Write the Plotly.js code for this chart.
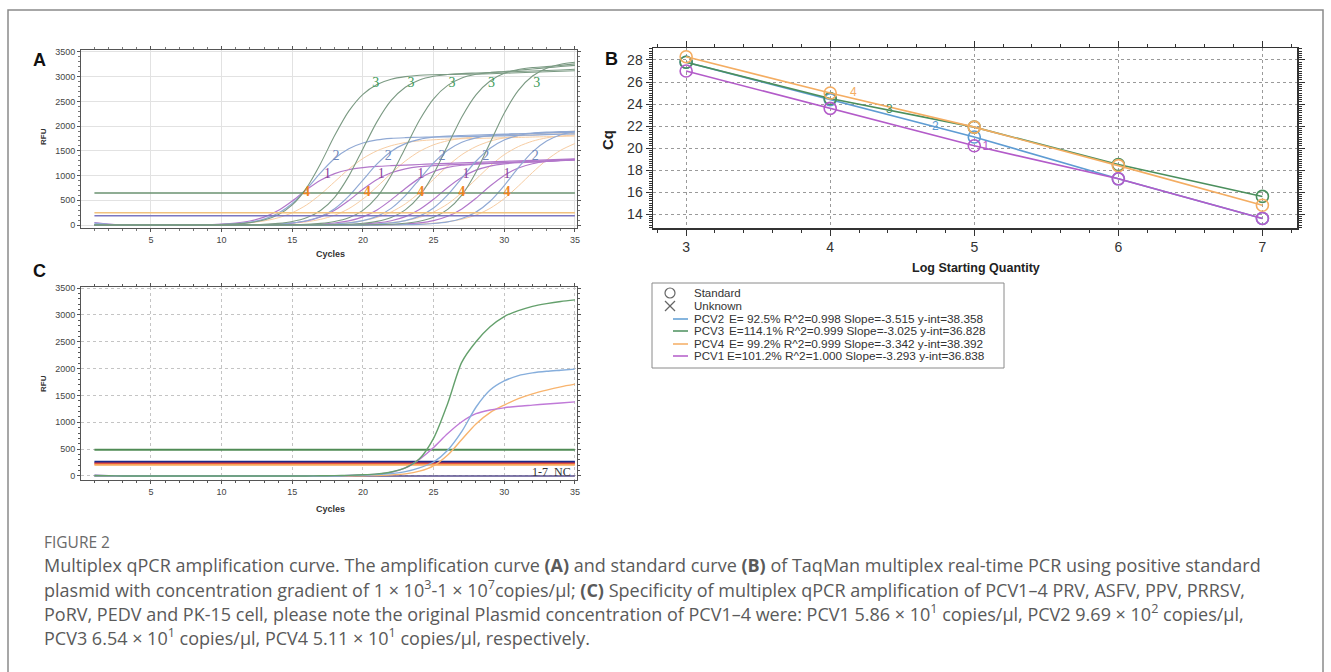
<!DOCTYPE html>
<html><head><meta charset="utf-8">
<script src="https://cdn.plot.ly/plotly-3.0.1.min.js"></script>
<style>html,body{margin:0;padding:0;background:#fff;}#chart{width:1331px;height:672px;}</style>
</head><body><div id="chart"></div>
<script>
// ================= DATA =================
const cycles = [1,2,3,4,5,6,7,8,9,10,11,12,13,14,15,16,17,18,19,20,21,22,23,24,25,26,27,28,29,30,31,32,33,34,35];

// Panel A – PCV3 (green), five dilutions
const aPCV3_1 = [0,0,0,0,0,0,0,0,0,11,23,48,101,206,406,747,1241,1809,2303,2644,2843,2949,3001,3030,3040,3045,3050,3055,3060,3070,3080,3090,3100,3110,3120];
const aPCV3_2 = [0,0,0,0,0,0,0,0,0,0,4,8,16,34,71,146,294,561,989,1540,2091,2519,2787,2935,3009,3046,3065,3075,3085,3095,3105,3115,3125,3135,3150];
const aPCV3_3 = [0,0,0,0,0,0,0,0,0,0,0,0,0,4,8,16,34,72,148,297,568,1002,1560,2118,2552,2824,2973,3048,3086,3104,3130,3155,3180,3205,3230];
const aPCV3_4 = [0,0,0,0,0,0,0,0,0,0,0,0,0,0,0,0,4,8,17,35,74,153,307,586,1034,1610,2186,2634,2914,3069,3146,3185,3204,3230,3260];
const aPCV3_5 = [0,0,0,0,0,0,0,0,0,0,0,0,0,0,0,0,0,0,0,4,8,17,37,77,158,317,606,1069,1665,2261,2724,3014,3173,3253,3293];
// Panel A – PCV2 (blue)
const aPCV2_1 = [40,15,5,0,0,0,0,0,6,14,28,59,120,237,436,724,1056,1344,1543,1659,1721,1752,1766,1775,1780,1785,1790,1795,1800,1805,1812,1820,1828,1836,1845];
const aPCV2_2 = [0,0,0,0,0,0,0,0,0,0,0,4,9,20,42,86,173,331,584,910,1236,1489,1647,1734,1778,1800,1811,1820,1830,1838,1846,1854,1862,1870,1880];
const aPCV2_3 = [0,0,0,0,0,0,0,0,0,0,0,0,0,0,0,5,10,20,43,88,176,337,594,925,1256,1513,1674,1763,1807,1830,1841,1855,1866,1878,1890];
const aPCV2_4 = [0,0,0,0,0,0,0,0,0,0,0,0,0,0,0,0,0,0,5,10,21,44,90,181,346,610,950,1290,1554,1720,1811,1856,1879,1891,1897];
const aPCV2_5 = [0,0,0,0,0,0,0,0,0,0,0,0,0,0,0,0,0,0,0,0,0,3,7,15,31,65,132,261,480,798,1162,1480,1699,1827,1895];
// Panel A – PCV4 (orange)
const aPCV4_1 = [0,0,0,0,0,0,0,0,8,14,26,47,83,146,249,404,620,875,1131,1346,1502,1605,1668,1703,1724,1738,1745,1752,1758,1765,1772,1780,1787,1794,1800];
const aPCV4_2 = [0,0,0,0,0,0,0,0,0,0,0,6,11,20,36,65,115,198,331,526,775,1045,1294,1489,1622,1705,1754,1784,1805,1820,1835,1850,1865,1880,1900];
const aPCV4_3 = [0,0,0,0,0,0,0,0,0,0,0,0,0,0,0,8,15,27,49,88,154,263,427,655,925,1195,1423,1587,1696,1763,1800,1822,1835,1843,1850];
const aPCV4_4 = [0,0,0,0,0,0,0,0,0,0,0,0,0,0,0,0,0,0,8,15,27,49,88,154,263,427,655,925,1195,1423,1587,1696,1763,1800,1822];
const aPCV4_5 = [0,0,0,0,0,0,0,0,0,0,0,0,0,0,0,0,0,0,0,0,0,0,11,20,37,66,117,202,337,535,788,1062,1315,1513,1648];
// Panel A – PCV1 (purple)
const aPCV1_1 = [50,20,5,0,0,0,0,4,9,19,40,81,160,294,488,712,906,1040,1118,1160,1185,1200,1212,1224,1236,1248,1258,1268,1278,1288,1298,1308,1318,1328,1338];
const aPCV1_2 = [0,0,0,0,0,0,0,0,0,0,0,4,9,19,40,82,162,299,497,723,921,1058,1137,1180,1200,1215,1228,1240,1252,1264,1276,1288,1300,1315,1330];
const aPCV1_3 = [0,0,0,0,0,0,0,0,0,0,0,0,0,0,5,10,20,41,84,166,306,509,741,944,1084,1165,1209,1230,1245,1258,1270,1282,1294,1306,1318];
const aPCV1_4 = [0,0,0,0,0,0,0,0,0,0,0,0,0,0,0,0,0,5,10,20,42,86,170,314,521,759,966,1110,1193,1238,1260,1270,1285,1300,1315];
const aPCV1_5 = [0,0,0,0,0,0,0,0,0,0,0,0,0,0,0,0,0,0,0,0,5,10,21,44,90,177,326,541,789,1004,1153,1240,1286,1309,1319];

// Panel A thresholds (RFU) and curve labels (cycle, RFU)
const aThresholds = [650, 250, 190];
const aLabel3X = [20.9, 23.4, 26.3, 29.1, 32.3], aLabel3Y = 2870;
const aLabel2X = [18.1, 21.8, 25.6, 28.7, 32.2], aLabel2Y = 1380;
const aLabel1X = [17.5, 21.3, 24.1, 27.3, 30.2], aLabel1Y = 1030;
const aLabel4X = [16.0, 20.3, 24.1, 27.0, 30.2], aLabel4Y = 650;

// Panel B – standard curves
const logQty = [3, 4, 5, 6, 7];
const cqPCV2 = [27.8, 24.4, 21.0, 17.2, 13.6];
const cqPCV3 = [27.8, 24.5, 21.9, 18.5, 15.6];
const cqPCV4 = [28.3, 25.0, 21.9, 18.4, 14.8];
const cqPCV1 = [27.0, 23.6, 20.2, 17.2, 13.6];
const bLabelText = ['4', '3', '2', '1'];
const bLabelX = [4.16, 4.41, 4.73, 5.08];
const bLabelY = [25.0, 23.45, 21.9, 20.1];
const legendNames = ['PCV2', 'PCV3', 'PCV4', 'PCV1'];
const legendStats = ['E= 92.5% R^2=0.998 Slope=-3.515 y-int=38.358',
                     'E=114.1% R^2=0.999 Slope=-3.025 y-int=36.828',
                     'E= 99.2% R^2=0.999 Slope=-3.342 y-int=38.392',
                     'E=101.2% R^2=1.000 Slope=-3.293 y-int=36.838'];

// Panel C – specificity
const cPCV3 = [5,3,0,0,0,0,0,0,0,0,0,0,0,0,0,0,3,6,12,22,40,75,150,320,700,1350,2120,2500,2780,2970,3080,3160,3210,3250,3280];
const cPCV2 = [5,3,0,0,0,0,0,0,0,0,0,0,0,0,0,0,0,0,8,15,25,45,80,150,260,480,830,1280,1600,1770,1870,1920,1950,1970,1990];
const cPCV4 = [0,0,0,0,0,0,0,0,0,0,0,0,0,0,0,0,0,0,0,5,10,20,40,90,190,390,680,970,1180,1320,1440,1530,1600,1660,1710];
const cPCV1 = [0,0,0,0,0,0,0,0,0,0,0,0,0,0,0,0,0,0,10,20,35,70,150,310,530,790,1010,1160,1230,1270,1300,1320,1340,1360,1380];
const cNC   = [12,6,2,0,0,0,0,0,0,0,0,0,0,0,0,0,0,0,0,0,0,0,0,0,0,0,0,0,0,0,0,0,0,0,0];
const cThresholds = [490, 258, 234, 210];

// ================= STYLE / LAYOUT =================
const W = 1331, H = 672;
const X = p => p / W, Y = p => 1 - p / H;
const SANS = 'Liberation Sans, Arial, sans-serif';
const SERIF = 'Liberation Serif, DejaVu Serif, serif';
const CAP = 'Open Sans, Lato, sans-serif';

const col = {
  aG: '#7b9a83', aB: '#90a9d4', aO: '#f7cda3', aP: '#b277ca',
  bB: '#5e9cd3', bG: '#4b8f5d', bO: '#f4ad62', bP: '#b35bc9'
};

const traces = [];
function curve(y, color, xa, ya, w) {
  traces.push({x: cycles, y: y, xaxis: xa, yaxis: ya, mode: 'lines', type: 'scatter',
    line: {color: color, width: w || 1, shape: 'spline', smoothing: 0.8}, hoverinfo: 'skip'});
}
function hline(v, color, xa, ya, w) {
  traces.push({x: [cycles[0], cycles[cycles.length - 1]], y: [v, v], xaxis: xa, yaxis: ya, mode: 'lines',
    type: 'scatter', line: {color: color, width: w}, hoverinfo: 'skip'});
}
function labels(xs, y, txt, color, xa, ya, size) {
  traces.push({x: xs, y: xs.map(() => y), text: xs.map(() => txt), mode: 'text', type: 'scatter',
    xaxis: xa, yaxis: ya, textfont: {family: SERIF, size: size || 13, color: color}, hoverinfo: 'skip'});
}

// Panel A
[aPCV4_1, aPCV4_2, aPCV4_3, aPCV4_4, aPCV4_5].forEach(s => curve(s, col.aO, 'x', 'y', 1));
[aPCV1_1, aPCV1_2, aPCV1_3, aPCV1_4, aPCV1_5].forEach(s => curve(s, col.aP, 'x', 'y', 1.2));
[aPCV2_1, aPCV2_2, aPCV2_3, aPCV2_4, aPCV2_5].forEach(s => curve(s, col.aB, 'x', 'y', 1.2));
[aPCV3_1, aPCV3_2, aPCV3_3, aPCV3_4, aPCV3_5].forEach(s => curve(s, col.aG, 'x', 'y', 1.1));
hline(aThresholds[0], '#6a9270', 'x', 'y', 1.5);
hline(aThresholds[1], '#f2c27e', 'x', 'y', 1.5);
hline(aThresholds[2], '#7b76c2', 'x', 'y', 1.5);
labels(aLabel3X, aLabel3Y, '3', '#3e9c5a', 'x', 'y', 14);
labels(aLabel2X, aLabel2Y, '2', '#6e86ba', 'x', 'y', 14);
labels(aLabel1X, aLabel1Y, '1', '#8c3f9c', 'x', 'y', 14);
labels(aLabel4X, aLabel4Y, '<b>4</b>', '#f08422', 'x', 'y', 14);

// Panel B
[[cqPCV2, col.bB], [cqPCV3, col.bG], [cqPCV4, col.bO], [cqPCV1, col.bP]].forEach(([s, c]) => {
  traces.push({x: logQty, y: s, xaxis: 'x2', yaxis: 'y2', mode: 'lines+markers', type: 'scatter',
    line: {color: c, width: 1.6},
    marker: {symbol: 'circle-open', size: 12, color: c, line: {width: 1.6, color: c}}, hoverinfo: 'skip'});
});
traces.push({x: bLabelX, y: bLabelY, text: bLabelText, mode: 'text', type: 'scatter', xaxis: 'x2', yaxis: 'y2',
  textfont: {family: SANS, size: 12, color: [col.bO, col.bG, col.bB, col.bP]}, hoverinfo: 'skip'});

// Panel C
hline(cThresholds[0], '#4f8b55', 'x3', 'y3', 2);
hline(cThresholds[1], '#1c2a8a', 'x3', 'y3', 2.5);
hline(cThresholds[2], '#e03a3a', 'x3', 'y3', 2);
hline(cThresholds[3], '#f7a85a', 'x3', 'y3', 2);
curve(cNC, '#5a4f8e', 'x3', 'y3', 1.5);
curve(cPCV4, '#f8b46e', 'x3', 'y3', 1.4);
curve(cPCV1, '#c07ad8', 'x3', 'y3', 1.4);
curve(cPCV2, '#86aedc', 'x3', 'y3', 1.4);
curve(cPCV3, '#64a06c', 'x3', 'y3', 1.4);

function ax(o) {
  return Object.assign({
    showline: true, linecolor: '#555', linewidth: 1, mirror: 'allticks',
    ticks: 'outside', ticklen: 3, tickcolor: '#555', tickwidth: 1,
    zeroline: false, showgrid: true, gridcolor: '#cfcfcf', griddash: 'dot', gridwidth: 1,
    tickfont: {family: SANS, size: 9, color: '#444'}, fixedrange: true
  }, o);
}

const layout = {
  width: W, height: H, margin: {l: 0, r: 0, t: 0, b: 0},
  paper_bgcolor: '#fff', plot_bgcolor: '#fff', showlegend: false,
  xaxis: ax({domain: [X(81), X(577)], range: [0.05, 35.15], tick0: 0, dtick: 5, anchor: 'y',
    gridcolor: '#e2e2e2', griddash: 'solid',
    minor: {tick0: 0, dtick: 1, ticks: 'outside', ticklen: 2, tickcolor: '#777'}}),
  yaxis: ax({domain: [Y(228), Y(50)], range: [-60, 3540], tick0: 0, dtick: 500, anchor: 'x',
    gridcolor: '#e2e2e2', griddash: 'solid',
    minor: {tick0: 0, dtick: 100, ticks: 'outside', ticklen: 2, tickcolor: '#777'}}),
  xaxis2: ax({domain: [X(653), X(1297)], range: [2.77, 7.24], tick0: 0, dtick: 1, anchor: 'y2',
    linecolor: '#333', linewidth: 1.5, tickcolor: '#333', ticklen: 6, gridcolor: '#9a9a9a',
    tickfont: {family: SANS, size: 14, color: '#333'},
    minor: {tick0: 0, dtick: 0.2, ticks: 'outside', ticklen: 3, tickcolor: '#333'}}),
  yaxis2: ax({domain: [Y(228), Y(48)], range: [12.73, 29.09], tick0: 0, dtick: 2, anchor: 'x2',
    linecolor: '#333', linewidth: 1.5, tickcolor: '#333', ticklen: 6, gridcolor: '#9a9a9a',
    tickfont: {family: SANS, size: 14, color: '#333'},
    minor: {tick0: 0, dtick: 0.2, ticks: 'outside', ticklen: 3, tickcolor: '#333'}}),
  xaxis3: ax({domain: [X(81), X(577)], range: [0.05, 35.15], tick0: 0, dtick: 5, anchor: 'y3',
    gridcolor: '#c4c4c4',
    minor: {tick0: 0, dtick: 1, ticks: 'outside', ticklen: 2, tickcolor: '#555'}}),
  yaxis3: ax({domain: [Y(480), Y(287)], range: [-75, 3520], tick0: 0, dtick: 500, anchor: 'x3',
    gridcolor: '#c4c4c4',
    minor: {tick0: 0, dtick: 100, ticks: 'outside', ticklen: 2, tickcolor: '#555'}}),
  shapes: [], annotations: []
};

function note(text, px, py, opts) {
  layout.annotations.push(Object.assign({text: text, xref: 'paper', yref: 'paper', x: X(px), y: Y(py),
    showarrow: false, xanchor: 'center', yanchor: 'middle'}, opts || {}));
}
function seg(x0, y0, x1, y1, color, w) {
  layout.shapes.push({type: 'line', xref: 'paper', yref: 'paper', x0: X(x0), x1: X(x1), y0: Y(y0), y1: Y(y1),
    line: {color: color, width: w}});
}

// outer figure border
layout.shapes.push({type: 'rect', xref: 'paper', yref: 'paper', x0: X(8), x1: X(1323), y0: Y(700), y1: Y(10),
  line: {color: '#8a8a8a', width: 1.5}});

// panel letters
note('<b>A</b>', 39, 60, {font: {family: SANS, size: 18, color: '#111'}});
note('<b>B</b>', 611, 59, {font: {family: SANS, size: 18, color: '#111'}});
note('<b>C</b>', 39, 271, {font: {family: SANS, size: 18, color: '#111'}});

// axis titles
note('<b>RFU</b>', 43, 137, {textangle: -90, font: {family: SANS, size: 8, color: '#333'}});
note('<b>Cycles</b>', 330, 254, {font: {family: SANS, size: 9, color: '#333'}});
note('<b>RFU</b>', 43, 384, {textangle: -90, font: {family: SANS, size: 8, color: '#333'}});
note('<b>Cycles</b>', 330, 509, {font: {family: SANS, size: 9, color: '#333'}});
note('<b>Cq</b>', 607, 140, {textangle: -90, font: {family: SANS, size: 15, color: '#222'}});
note('<b>Log Starting Quantity</b>', 976, 268, {font: {family: SANS, size: 12.5, color: '#222'}});

// "1-7 NC" label in panel C (data coords)
layout.annotations.push({text: '1-7  NC', xref: 'x3', yref: 'y3', x: 34.9, y: 70, showarrow: false,
  xanchor: 'right', yanchor: 'middle', font: {family: SERIF, size: 12, color: '#333'}});

// legend box for panel B
layout.shapes.push({type: 'rect', xref: 'paper', yref: 'paper', x0: X(652), x1: X(1004), y0: Y(368), y1: Y(283),
  line: {color: '#8a8a8a', width: 1}});
const legRows = [293, 306, 319, 331, 344, 356];
const legFont = {family: SANS, size: 11.5, color: '#333'};
const statFont = {family: SANS, size: 11.8, color: '#333'};
// legend glyphs: open circle (Standard) and cross (Unknown)
layout.shapes.push({type: 'circle', xref: 'paper', yref: 'paper', x0: X(665), x1: X(675),
  y0: Y(legRows[0] + 5), y1: Y(legRows[0] - 5), line: {color: '#666', width: 1.2}});
seg(665, legRows[1] - 5, 675, legRows[1] + 5, '#666', 1.2);
seg(665, legRows[1] + 5, 675, legRows[1] - 5, '#666', 1.2);
note('Standard', 692, legRows[0], {xanchor: 'left', font: legFont});
note('Unknown', 692, legRows[1], {xanchor: 'left', font: legFont});
const legCols = [col.bB, col.bG, col.bO, col.bP];
legendNames.forEach((n, i) => {
  const ry = legRows[i + 2];
  seg(673, ry, 688, ry, legCols[i], 1.5);
  note(n, 692, ry, {xanchor: 'left', font: legFont});
  note(legendStats[i], i === 3 ? 725 : 727, ry, {xanchor: 'left', font: statFont});
});

// caption
const capFont = {family: CAP, size: 18, color: '#5a5a5a'};
note('FIGURE 2', 42, 542, {xanchor: 'left', font: {family: CAP, size: 15.5, color: '#6a6a6a'}});
const capLines = [
  'Multiplex qPCR amplification curve. The amplification curve <b>(A)</b> and standard curve <b>(B)</b> of TaqMan multiplex real-time PCR using positive standard',
  'plasmid with concentration gradient of 1 × 10<sup>3</sup>-1 × 10<sup>7</sup>copies/μl; <b>(C)</b> Specificity of multiplex qPCR amplification of PCV1–4 PRV, ASFV, PPV, PRRSV,',
  'PoRV, PEDV and PK-15 cell, please note the original Plasmid concentration of PCV1–4 were: PCV1 5.86 × 10<sup>1</sup> copies/μl, PCV2 9.69 × 10<sup>2</sup> copies/μl,',
  'PCV3 6.54 × 10<sup>1</sup> copies/μl, PCV4 5.11 × 10<sup>1</sup> copies/μl, respectively.'
];
[565, 589, 613, 637].forEach((y, i) => note(capLines[i], 42, y, {xanchor: 'left', font: capFont}));

Plotly.newPlot('chart', traces, layout, {displayModeBar: false, staticPlot: true});
</script></body></html>
